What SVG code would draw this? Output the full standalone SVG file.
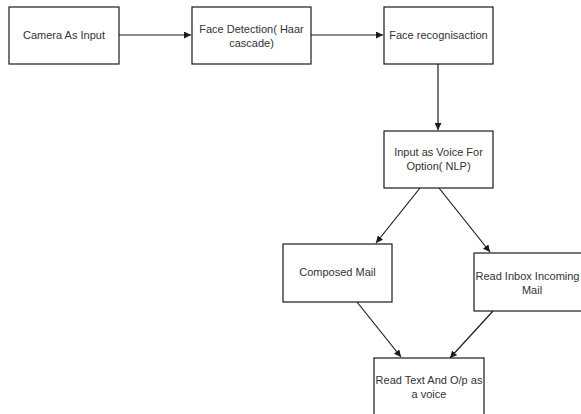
<svg xmlns="http://www.w3.org/2000/svg" width="581" height="414" viewBox="0 0 581 414">
<style>
.box{fill:#fff;stroke:#1a1a1a;stroke-width:1.2}
.t{font-family:"Liberation Sans",Arial,sans-serif;font-size:11px;fill:#333;text-anchor:middle}
.c{fill:none;stroke:#1a1a1a;stroke-width:1.2}
</style>
<defs>
<marker id="ah" viewBox="0 0 10 10" refX="10" refY="5" markerWidth="7" markerHeight="7" markerUnits="userSpaceOnUse" orient="auto">
<path d="M0,0 L10,5 L0,10 Z" fill="#1a1a1a"/>
</marker>
</defs>
<rect width="581" height="414" fill="#fff"/>
<g id="connectors">
<line class="c" x1="119" y1="35" x2="191" y2="35" marker-end="url(#ah)"/>
<line class="c" x1="311" y1="35" x2="383" y2="35" marker-end="url(#ah)"/>
<line class="c" x1="438" y1="64" x2="438" y2="130" marker-end="url(#ah)"/>
<line class="c" x1="420" y1="188" x2="376" y2="243" marker-end="url(#ah)"/>
<line class="c" x1="439" y1="188" x2="490" y2="252" marker-end="url(#ah)"/>
<line class="c" x1="357" y1="302" x2="401" y2="357" marker-end="url(#ah)"/>
<line class="c" x1="493" y1="311" x2="450" y2="358" marker-end="url(#ah)"/>
</g>
<g id="camera">
<rect class="box" x="9" y="7" width="110" height="57"/>
<text class="t" x="64" y="39">Camera As Input</text>
</g>
<g id="facedetect">
<rect class="box" x="192" y="7" width="119" height="57"/>
<text class="t" x="251.5" y="33">Face Detection( Haar</text>
<text class="t" x="251.5" y="47">cascade)</text>
</g>
<g id="facerecog">
<rect class="box" x="384" y="7" width="109" height="57"/>
<text class="t" x="438.5" y="39">Face recognisaction</text>
</g>
<g id="voiceinput">
<rect class="box" x="384" y="131" width="109" height="57"/>
<text class="t" x="438.5" y="156">Input as Voice For</text>
<text class="t" x="438.5" y="170">Option( NLP)</text>
</g>
<g id="composed">
<rect class="box" x="283" y="244" width="109" height="58"/>
<text class="t" x="337.5" y="276">Composed Mail</text>
</g>
<g id="inbox">
<rect class="box" x="474" y="253" width="118" height="58"/>
<text class="t" x="527.5" y="280">Read Inbox Incoming</text>
<text class="t" x="532" y="294">Mail</text>
</g>
<g id="readtext">
<rect class="box" x="374" y="358" width="110" height="70"/>
<text class="t" x="429" y="384">Read Text And O/p as</text>
<text class="t" x="429" y="398">a voice</text>
</g>
</svg>
